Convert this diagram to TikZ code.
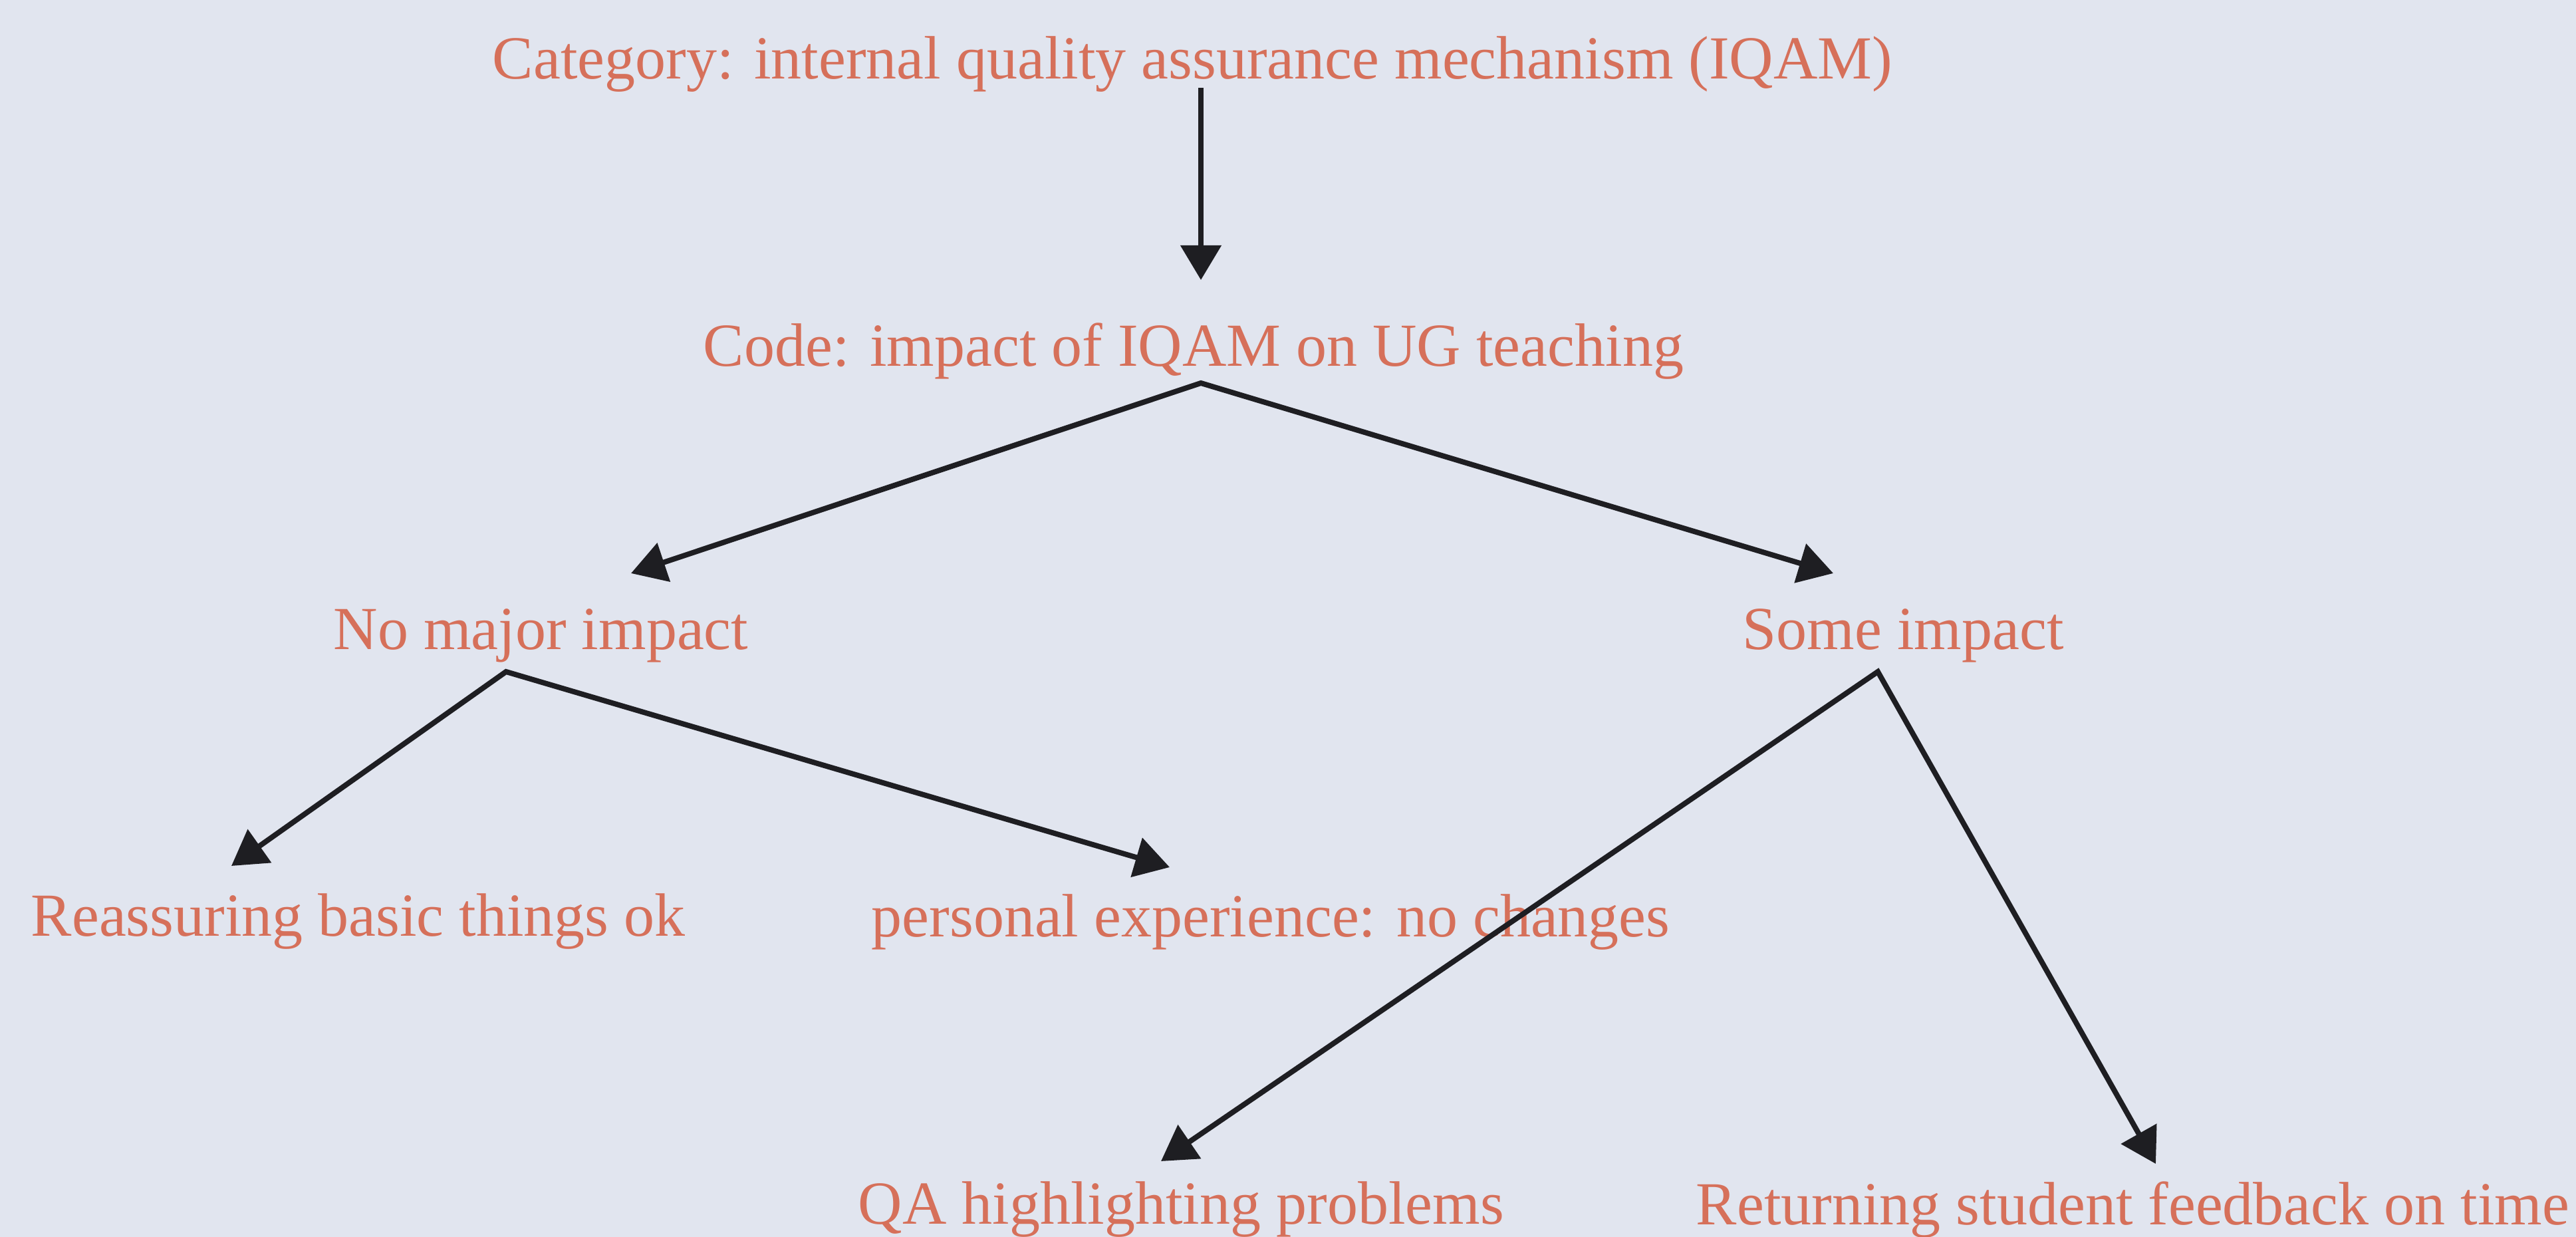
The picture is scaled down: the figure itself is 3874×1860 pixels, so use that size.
\documentclass[tikz,border=0pt]{standalone}
\usepackage{fontspec}
\setmainfont{Liberation Serif}
\usetikzlibrary{arrows.meta}
\definecolor{bg}{RGB}{225,229,239}
\definecolor{txt}{RGB}{214,112,90}
\definecolor{ink}{RGB}{30,30,34}
\begin{document}
\begin{tikzpicture}[x=0.25pt,y=-0.25pt,
  lbl/.style={anchor=base west, inner sep=0pt, text=txt, font=\fontsize{23pt}{27pt}\selectfont},
  conn/.style={draw=ink, line width=2pt, -{Triangle[length=13pt,width=15pt]}},
  fork/.style={draw=ink, line width=2pt, line join=miter, {Triangle[length=13pt,width=15pt]}-{Triangle[length=13pt,width=15pt]}}]
\fill[bg] (0,0) rectangle (3874,1860);
\useasboundingbox (0,0) rectangle (3874,1860);

% labels
\node[lbl] (cat)  at (740,119)  {Category: internal quality assurance mechanism (IQAM)};
\node[lbl] (code) at (1057,551) {Code: impact of IQAM on UG teaching};
\node[lbl] (nomaj) at (501,976) {No major impact};
\node[lbl] (some) at (2620,976) {Some impact};
\node[lbl] (reass) at (46,1407) {Reassuring basic things ok};
\node[lbl] (pers) at (1310,1408) {personal experience: no changes};
\node[lbl] (qa) at (1290,1840) {QA highlighting problems};
\node[lbl] (ret) at (2550,1841) {Returning student feedback on time};

% connector points
\coordinate (catS) at (1806,132);
\coordinate (codeN) at (1806,421);
\coordinate (codeS) at (1806,576);
\coordinate (nomajN) at (949,862);
\coordinate (someN) at (2757,862);
\coordinate (nomajS) at (761,1010);
\coordinate (reassN) at (348,1302);
\coordinate (persN) at (1759,1304);
\coordinate (someS) at (2824,1010);
\coordinate (qaN) at (1746,1746);
\coordinate (retN) at (3242,1750);

% connectors
\draw[conn] (catS) -- (codeN);
\draw[fork] (nomajN) -- (codeS) -- (someN);
\draw[fork] (reassN) -- (nomajS) -- (persN);
\draw[fork] (qaN) -- (someS) -- (retN);
\end{tikzpicture}
\end{document}
